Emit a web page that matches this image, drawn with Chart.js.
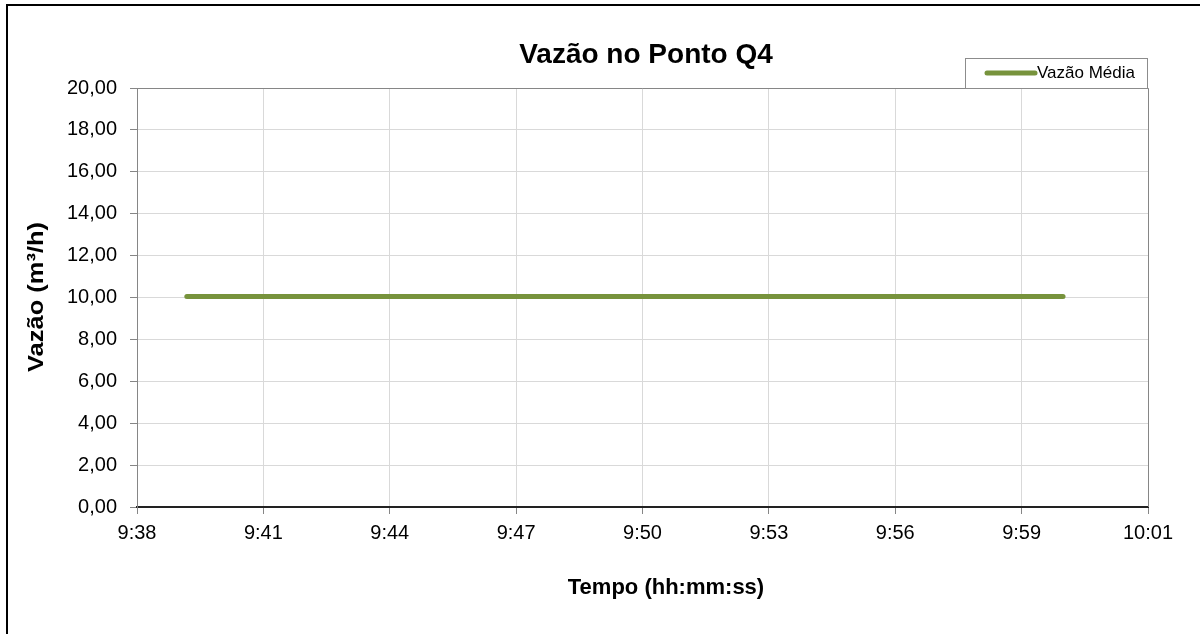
<!DOCTYPE html>
<html>
<head>
<meta charset="utf-8">
<title>Vazão no Ponto Q4</title>
<script src="https://cdn.jsdelivr.net/npm/chart.js@4"></script>
<style>
  html, body { margin: 0; padding: 0; background: #fff; }
  #wrap { position: relative; width: 1200px; height: 634px; }
</style>
</head>
<body>
<div id="wrap"><canvas id="vazaoChart" width="1200" height="634"></canvas></div>
<script>
// ---- data ----
const chartTitle = 'Vazão no Ponto Q4';
const seriesLabel = 'Vazão Média';
const yTitle = 'Vazão (m³/h)';
const xTitle = 'Tempo (hh:mm:ss)';

const sampleTimes = ['9:39:08', '9:59:04'];
const vazaoMedia = [10.05, 10.05];

const xTickLabels = ['9:38', '9:41', '9:44', '9:47', '9:50', '9:53', '9:56', '9:59', '10:01'];
const xAxisStart = '9:38:00';
const xAxisEnd = '10:01:00';

// "h:mm:ss" -> minutes
function toMinutes(t) {
    const p = t.split(':').map(Number);
    return p[0] * 60 + p[1] + (p[2] || 0) / 60;
}

const points = sampleTimes.map((t, i) => ({ x: toMinutes(t), y: vazaoMedia[i] }));
const lineColor = '#77933C';
const FONT = '"Liberation Sans", Arial, sans-serif';

// titles, legend, frames
const decorPlugin = {
    id: 'decor',
    afterDraw(chart) {
        const ctx = chart.ctx;
        const a = chart.chartArea;
        ctx.save();

        // outer frame (left + top)
        ctx.fillStyle = '#000';
        ctx.fillRect(6, 4, 1194, 2);
        ctx.fillRect(6, 4, 2, 630);

        // plot frame top + right
        ctx.strokeStyle = '#868686';
        ctx.lineWidth = 1;
        ctx.beginPath();
        ctx.moveTo(a.left, a.top + 0.5);
        ctx.lineTo(a.right + 0.5, a.top + 0.5);
        ctx.lineTo(a.right + 0.5, a.bottom);
        ctx.stroke();

        // chart title
        ctx.fillStyle = '#000';
        ctx.textAlign = 'center';
        ctx.textBaseline = 'middle';
        ctx.font = 'bold 28px ' + FONT;
        ctx.fillText(chartTitle, 646, 55);

        // x axis title
        ctx.font = 'bold 22px ' + FONT;
        ctx.fillText(xTitle, 666, 588);

        // y axis title (stretched a little along its length, as in the original)
        ctx.save();
        ctx.translate(37, 297);
        ctx.rotate(-Math.PI / 2);
        const w = ctx.measureText(yTitle).width;
        ctx.scale(150 / w, 1);
        ctx.fillText(yTitle, 0, 0);
        ctx.restore();

        // legend box
        const lx = 965, ly = 58, lw = 182, lh = 30;
        ctx.fillStyle = '#fff';
        ctx.fillRect(lx, ly, lw, lh);
        ctx.strokeStyle = '#8c8c8c';
        ctx.strokeRect(lx + 0.5, ly + 0.5, lw, lh);
        ctx.strokeStyle = lineColor;
        ctx.lineWidth = 5;
        ctx.lineCap = 'round';
        ctx.beginPath();
        ctx.moveTo(987, 73);
        ctx.lineTo(1035, 73);
        ctx.stroke();
        ctx.fillStyle = '#000';
        ctx.textAlign = 'left';
        ctx.font = '17px ' + FONT;
        ctx.fillText(seriesLabel, 1037, 73);

        ctx.restore();
    }
};

const ctx = document.getElementById('vazaoChart').getContext('2d');
const vazaoChart = new Chart(ctx, {
    type: 'line',
    data: {
        datasets: [{
            label: seriesLabel,
            data: points,
            borderColor: lineColor,
            backgroundColor: lineColor,
            borderWidth: 5,
            borderCapStyle: 'round',
            pointRadius: 0,
            fill: false
        }]
    },
    options: {
        responsive: false,
        animation: false,
        layout: { padding: { left: 0, right: 52, top: 88, bottom: 0 } },
        plugins: {
            legend: { display: false },
            title: { display: false },
            tooltip: { enabled: false }
        },
        scales: {
            x: {
                type: 'linear',
                min: toMinutes(xAxisStart),
                max: toMinutes(xAxisEnd),
                afterBuildTicks(scale) {
                    const n = xTickLabels.length - 1;
                    const step = (scale.max - scale.min) / n;
                    scale.ticks = xTickLabels.map((l, i) => ({ value: scale.min + i * step }));
                },
                afterFit(scale) { scale.height = 127; },
                ticks: {
                    color: '#000',
                    font: { family: FONT, size: 20 },
                    padding: 7,
                    maxRotation: 0,
                    autoSkip: false,
                    callback: (v, i) => xTickLabels[i]
                },
                grid: { color: '#d9d9d9', tickColor: '#868686', tickLength: 7 },
                border: { color: '#222', width: 2 }
            },
            y: {
                min: 0,
                max: 20,
                afterFit(scale) { scale.width = 137; },
                ticks: {
                    stepSize: 2,
                    color: '#000',
                    font: { family: FONT, size: 20 },
                    padding: 13,
                    callback: v => v.toFixed(2).replace('.', ',')
                },
                grid: { color: '#d9d9d9', tickColor: '#868686', tickLength: 7 },
                border: { color: '#868686', width: 1 }
            }
        }
    },
    plugins: [decorPlugin]
});
</script>
</body>
</html>
